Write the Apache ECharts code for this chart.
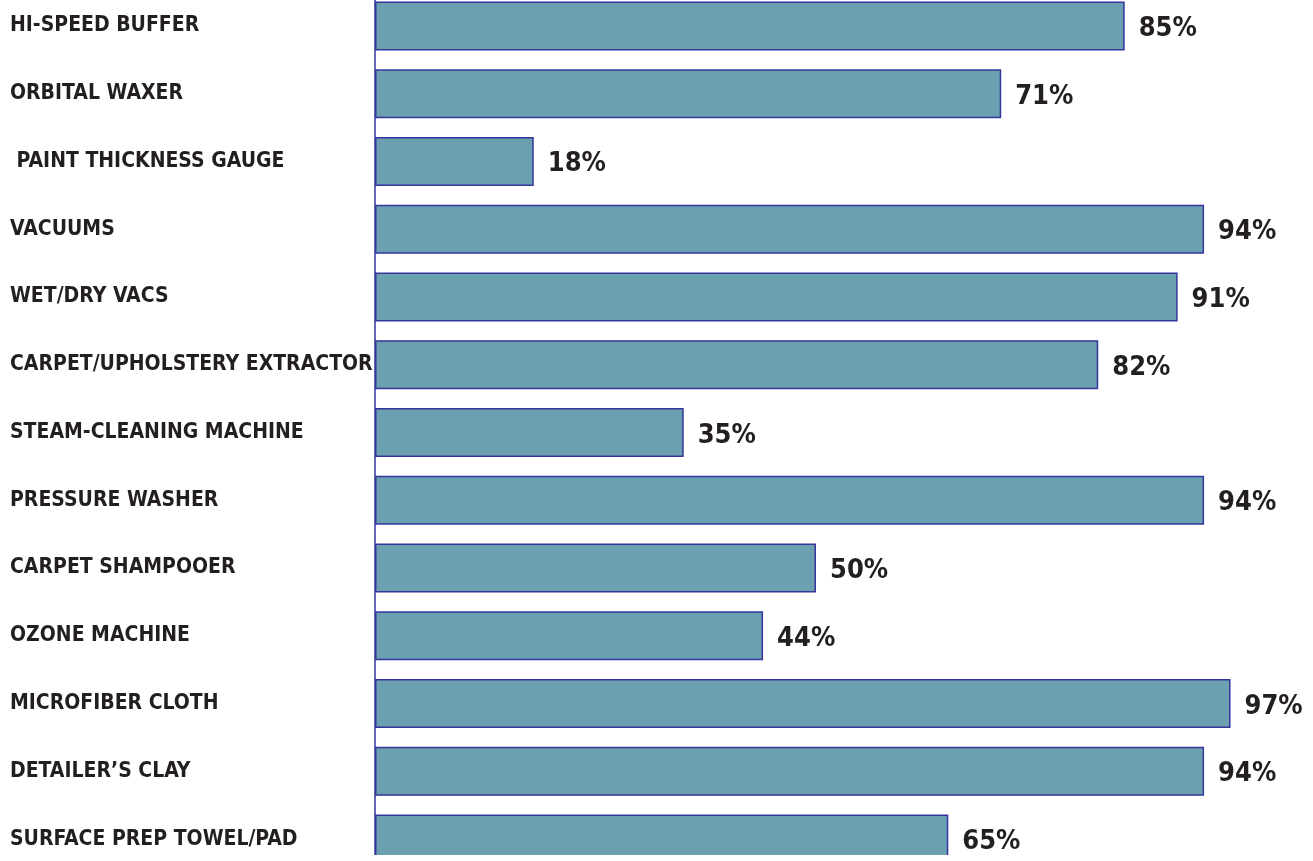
<!DOCTYPE html>
<html>
<head>
<meta charset="utf-8">
<script src="https://cdn.jsdelivr.net/npm/echarts@6/dist/echarts.min.js"></script>
<style>
  html, body { margin: 0; padding: 0; background: #ffffff; }
  #wrap { width: 1313px; height: 855px; overflow: hidden; position: relative; }
  #chart { width: 1313px; height: 881px; position: absolute; left: 0; top: -8px; }
</style>
</head>
<body>
<div id="wrap"><div id="chart"></div></div>
<script>
// categories, top to bottom
var categories = [
  'HI-SPEED BUFFER',
  'ORBITAL WAXER',
  ' PAINT THICKNESS GAUGE',
  'VACUUMS',
  'WET/DRY VACS',
  'CARPET/UPHOLSTERY EXTRACTOR',
  'STEAM-CLEANING MACHINE',
  'PRESSURE WASHER',
  'CARPET SHAMPOOER',
  'OZONE MACHINE',
  'MICROFIBER CLOTH',
  'DETAILER\u2019S CLAY',
  'SURFACE PREP TOWEL/PAD'
]
// percent values
var values = [85, 71, 18, 94, 91, 82, 35, 94, 50, 44, 97, 94, 65]

var font = "'DejaVu Sans Condensed', 'Liberation Sans Narrow', sans-serif"

var myChart = echarts.init(document.getElementById('chart'))
var option = {
  animation: false,
  grid: {
    left: 375,
    right: 56,
    top: 0,
    bottom: 0,
    containLabel: false
  },
  xAxis: {
    type: 'value',
    min: 0,
    max: 100,
    splitLine: { show: false },
    axisLabel: { show: false },
    axisTick: { show: false },
    axisLine: { show: false }
  },
  yAxis: {
    type: 'category',
    inverse: true,
    data: categories,
    axisTick: { show: false },
    axisLine: { show: true, lineStyle: { color: '#34349c', width: 1.5 } },
    axisLabel: {
      align: 'left',
      margin: 365,
      padding: [5, 0, 0, 0],
      color: '#231f20',
      fontFamily: font,
      fontWeight: 'bold',
      fontSize: 21
    }
  },
  series: [
    {
      type: 'bar',
      data: values,
      barWidth: 49,
      itemStyle: {
        color: '#6aa0b0',
        borderColor: '#35359e',
        borderWidth: 1.5
      },
      label: {
        show: true,
        position: 'right',
        distance: 14,
        offset: [0, 3],
        formatter: '{c}%',
        color: '#231f20',
        fontFamily: font,
        fontWeight: 'bold',
        fontSize: 27
      }
    }
  ]
}
myChart.setOption(option)
</script>
</body>
</html>
